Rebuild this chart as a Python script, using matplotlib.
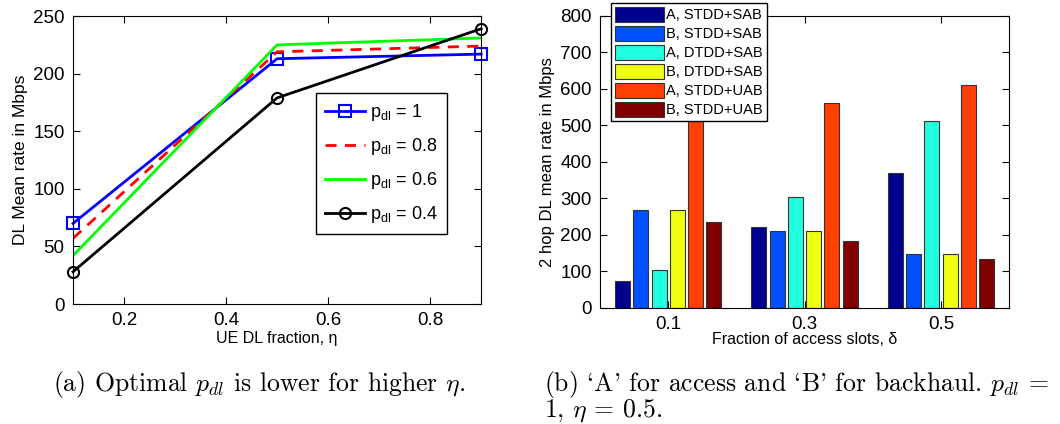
import numpy as np
import matplotlib
matplotlib.use("Agg")
import matplotlib.pyplot as plt

plt.rcParams['font.family'] = ['Liberation Sans', 'DejaVu Sans']
plt.rcParams['mathtext.fontset'] = 'custom'
plt.rcParams['mathtext.rm'] = 'Liberation Sans'
plt.rcParams['mathtext.it'] = 'Liberation Sans'

# left panel: DL mean rate vs UE DL fraction
eta = [0.1, 0.5, 0.9]
rate_p1 = [70, 213, 217]
rate_p08 = [57, 219, 224]
rate_p06 = [42, 225, 231]
rate_p04 = [28, 179, 239]

# right panel: 2 hop DL mean rate
delta_labels = ['0.1', '0.3', '0.5']
series_names = ['A, STDD+SAB', 'B, STDD+SAB', 'A, DTDD+SAB',
                'B, DTDD+SAB', 'A, STDD+UAB', 'B, STDD+UAB']
a_stdd_sab = [75, 223, 371]
b_stdd_sab = [268, 210, 149]
a_dtdd_sab = [103, 305, 511]
b_dtdd_sab = [268, 210, 149]
a_stdd_uab = [520, 560, 612]
b_stdd_uab = [236, 183, 133]
bar_colors = ['#00008F', '#0050FF', '#20FFDF', '#EFFF10', '#FF4000', '#800000']

fig = plt.figure(figsize=(10.6, 4.24), dpi=100)

ax1 = fig.add_axes([0.0689, 0.283, 0.385, 0.679])
ax1.plot(eta, rate_p1, color='#0000FF', lw=2, marker='s', ms=8,
         mfc='none', mew=1.5, clip_on=False, label=r'p$_{\mathregular{dl}}$ = 1')
ax1.plot(eta, rate_p08, color='#FF0000', lw=2, ls='--', dashes=(4, 3),
         label=r'p$_{\mathregular{dl}}$ = 0.8')
ax1.plot(eta, rate_p06, color='#00FF00', lw=2,
         label=r'p$_{\mathregular{dl}}$ = 0.6')
ax1.plot(eta, rate_p04, color='black', lw=2, marker='o', ms=8,
         mfc='none', mew=1.5, clip_on=False, label=r'p$_{\mathregular{dl}}$ = 0.4')
ax1.set_xlim(0.1, 0.9)
ax1.set_ylim(0, 250)
ax1.set_xticks([0.2, 0.4, 0.6, 0.8])
ax1.set_yticks(np.arange(0, 251, 50))
ax1.tick_params(direction='in', top=True, right=True, labelsize=13.5, length=5, pad=6)
ax1.set_xlabel('UE DL fraction, η', fontsize=11.5, labelpad=1)
ax1.set_ylabel('DL Mean rate in Mbps', fontsize=12.5, labelpad=4)
leg1 = ax1.legend(loc='upper left', bbox_to_anchor=(0.595, 0.732), fontsize=13,
                  handlelength=2.2, handletextpad=0.3, labelspacing=0.72,
                  borderpad=0.5, fancybox=False, framealpha=1,
                  edgecolor='black', borderaxespad=0)
leg1.get_frame().set_linewidth(1)

ax2 = fig.add_axes([0.566, 0.2736, 0.386, 0.689])
x = np.arange(1, 4)
step = 0.134
width = 0.11
series = [a_stdd_sab, b_stdd_sab, a_dtdd_sab, b_dtdd_sab, a_stdd_uab, b_stdd_uab]
for i, vals in enumerate(series):
    ax2.bar(x + (i - 2.5) * step, vals, width, color=bar_colors[i],
            edgecolor='#333333', linewidth=0.8, label=series_names[i])
ax2.set_xlim(0.5, 3.5)
ax2.set_ylim(0, 800)
ax2.set_xticks(x)
ax2.set_xticklabels(delta_labels)
ax2.set_yticks(np.arange(0, 801, 100))
ax2.tick_params(direction='in', top=True, right=True, labelsize=13.5, length=5, pad=6)
ax2.set_xlabel('Fraction of access slots, δ', fontsize=11.5, labelpad=-1)
ax2.set_ylabel('2 hop DL mean rate in Mbps', fontsize=12, labelpad=4)
leg2 = ax2.legend(loc='upper left', bbox_to_anchor=(0.027, 1.045), fontsize=10.5,
                  handlelength=3.3, handleheight=1.2, handletextpad=0.2,
                  labelspacing=0.24, borderpad=0.3, fancybox=False,
                  framealpha=1, edgecolor='black', borderaxespad=0)
leg2.get_frame().set_linewidth(1)

# captions set in Computer Modern
cap = dict(fontsize=18.5, family=['cmr10', 'DejaVu Serif'], math_fontfamily='cm',
           va='baseline')
fig.text(0.050, 0.078, r"(a) Optimal $p_{dl}$ is lower for higher $\eta$.", **cap)
fig.text(0.513, 0.078, r"(b) `A' for access and `B' for backhaul. $p_{dl}$ =", **cap)
fig.text(0.513, 0.0165, r"1, $\eta$ = 0.5.", **cap)

fig.savefig('out.png', dpi=100)
